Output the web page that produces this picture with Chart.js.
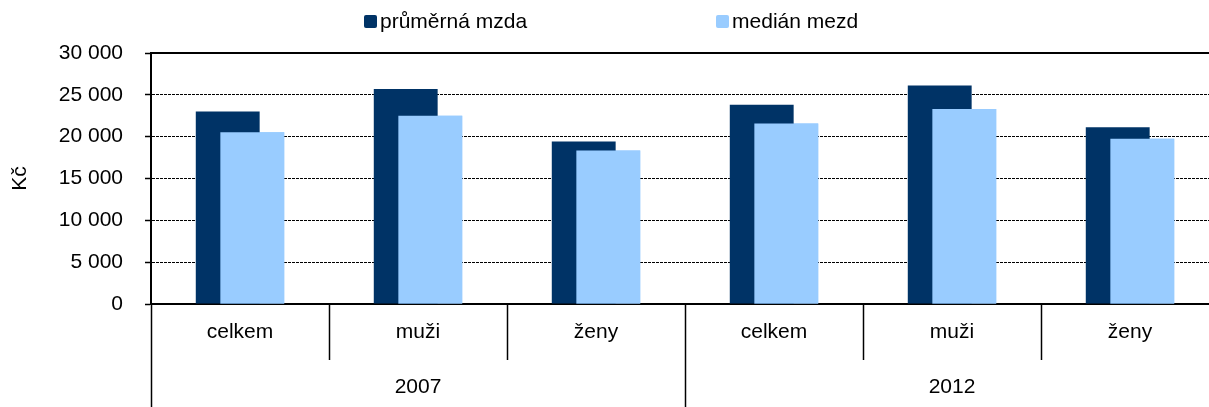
<!DOCTYPE html>
<html>
<head>
<meta charset="utf-8">
<script src="https://cdn.jsdelivr.net/npm/chart.js@4/dist/chart.umd.min.js"></script>
<style>
  body { margin: 0; overflow: hidden; background: #fff; }
  #wrap { position: relative; width: 1209px; height: 407px; overflow: hidden; }
  #legend { position: absolute; left: 364px; top: 9px; display: flex; gap: 189px;
            font: 21px "Liberation Sans", Arial, sans-serif; color: #000; }
  #legend span.item { display: flex; align-items: center; white-space: nowrap; }
  #legend span.box { display: inline-block; width: 13px; height: 13px; border-radius: 2px; margin-right: 3px; }
</style>
</head>
<body>
<div id="wrap">
  <canvas id="myChart" width="1230" height="407"></canvas>
  <div id="legend"></div>
</div>
<script>
// kategorie a roky
var categories = ["celkem", "muži", "ženy", "celkem", "muži", "ženy"];
var years = ["2007", "2012"];

// hodnoty v Kč
var prumernaMzda = [23000, 25700, 19420, 23810, 26120, 21140];
var medianMezd = [20540, 22500, 18350, 21580, 23300, 19740];

Chart.defaults.color = "#000";
Chart.defaults.font.family = '"Liberation Sans", Arial, sans-serif';
Chart.defaults.font.size = 21;

function fmt(v) {
  return String(v).replace(/\B(?=(\d{3})+(?!\d))/g, " ");
}

// plna horni hrana grafu
var topLine = {
  id: "topLine",
  afterDraw: function (chart) {
    var a = chart.chartArea, c = chart.ctx;
    c.save();
    c.strokeStyle = "#000";
    c.lineWidth = 2;
    c.beginPath();
    c.moveTo(a.left - 1, a.top);
    c.lineTo(a.right, a.top);
    c.stroke();
    c.restore();
  }
};

// median ma byt navrch, prekreslime ho
var medianOnTop = {
  id: "medianOnTop",
  afterDatasetsDraw: function (chart) {
    chart.getDatasetMeta(1).controller.draw();
  }
};

// html legenda z datasetu
var htmlLegend = {
  id: "htmlLegend",
  afterUpdate: function (chart) {
    var el = document.getElementById("legend");
    el.innerHTML = "";
    chart.data.datasets.forEach(function (ds) {
      var item = document.createElement("span");
      item.className = "item";
      var box = document.createElement("span");
      box.className = "box";
      box.style.background = ds.backgroundColor;
      item.appendChild(box);
      item.appendChild(document.createTextNode(ds.label));
      el.appendChild(item);
    });
  }
};

var ctx = document.getElementById("myChart").getContext("2d");

var myChart = new Chart(ctx, {
  type: "bar",
  data: {
    labels: categories,
    datasets: [
      {
        label: "průměrná mzda",
        data: prumernaMzda,
        backgroundColor: "#003366",
        xAxisID: "x",
        categoryPercentage: 0.276,
        barPercentage: 2.6,
      },
      {
        label: "medián mezd",
        data: medianMezd,
        backgroundColor: "#99CCFF",
        xAxisID: "x",
        categoryPercentage: 0.276,
        barPercentage: 2.6,
      },
    ],
  },
  options: {
    responsive: false,
    maintainAspectRatio: false,
    animation: false,
    layout: { padding: { top: 53, right: 11, bottom: 0, left: 0 } },
    plugins: {
      legend: { display: false },
      tooltip: { enabled: false },
    },
    scales: {
      x: {
        type: "category",
        offset: true,
        weight: 0,
        afterFit: function (s) { s.height = 56; },
        grid: {
          offset: true,
          drawOnChartArea: false,
          tickLength: 56,
          tickColor: "#000",
          tickWidth: 1.5,
        },
        border: { display: true, color: "#000", width: 2 },
        ticks: { padding: -40, maxRotation: 0, autoSkip: false },
      },
      x2: {
        type: "category",
        labels: years,
        offset: true,
        weight: 1,
        position: "bottom",
        afterFit: function (s) { s.height = 47; },
        grid: {
          offset: true,
          drawOnChartArea: false,
          tickLength: 47,
          tickColor: "#000",
          tickWidth: 1.5,
        },
        border: { display: false },
        ticks: { padding: -32, maxRotation: 0 },
      },
      y: {
        min: 0,
        max: 30000,
        afterFit: function (s) { s.width = 151; },
        ticks: {
          stepSize: 5000,
          padding: 22,
          callback: function (v) { return fmt(v); },
        },
        grid: {
          color: "#000",
          lineWidth: 1,
          tickLength: 6,
          tickColor: "#000",
          tickWidth: 1.5,
        },
        border: { display: true, color: "#000", width: 2, dash: [3, 1] },
        title: {
          display: true,
          text: "Kč",
          padding: { top: 8, bottom: 0 },
        },
      },
    },
  },
  plugins: [topLine, medianOnTop, htmlLegend],
});
</script>
</body>
</html>
